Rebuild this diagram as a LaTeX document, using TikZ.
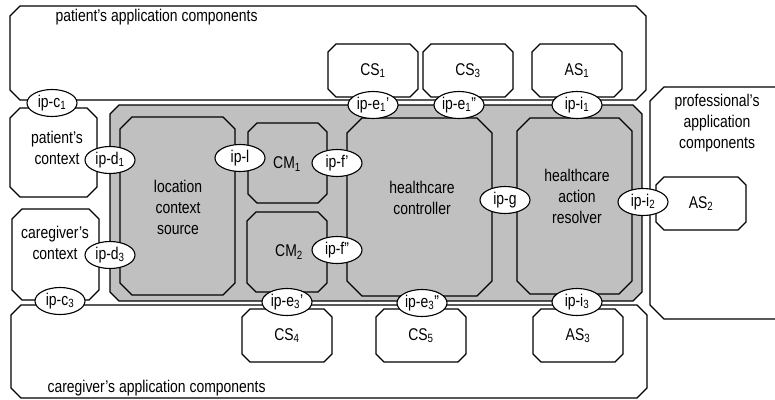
\documentclass[tikz,border=0pt]{standalone}
\usepackage{fontspec}
\setmainfont{Liberation Sans}[FakeStretch=0.82]
\usetikzlibrary{shapes.geometric}

\definecolor{blockgray}{RGB}{192,192,192}

% octagon from (x1,y1) to (x2,y2), corners cut off by c
\newcommand{\octo}[5]{(#1+#5,#2) -- (#3-#5,#2) -- (#3,#2+#5) -- (#3,#4-#5) -- (#3-#5,#4) -- (#1+#5,#4) -- (#1,#4-#5) -- (#1,#2+#5) -- cycle}

\begin{document}
\begin{tikzpicture}[x=1pt, y=-1pt, line width=1.1pt, font=\fontsize{17}{21}\selectfont,
    box/.style={draw, fill=white},
    block/.style={draw, fill=blockgray},
    txt/.style={align=center, inner sep=0pt},
    ip/.style={ellipse, draw, fill=white, minimum width=50pt, minimum height=27pt, inner sep=0pt}]
  \useasboundingbox (0,0) rectangle (775,399);
  \clip (0,0) rectangle (775,399);

  % application components of the three parties
  \draw[box] \octo{10}{6}{646}{100}{10};
  \node[txt, anchor=base west] (patapp) at (55,21) {patient's application components};
  \draw[box] \octo{11}{305}{647}{398}{10};
  \node[txt, anchor=base west] (careapp) at (47,392) {caregiver's application components};
  \draw[box] \octo{650}{87}{800}{319}{14};
  \node[txt] (profapp) at (717,123) {professional's\\application\\components};

  % context boxes on the left
  \draw[box] \octo{10}{108}{97}{197}{10};
  \node[txt] (patctx) at (57,148) {patient's\\context};
  \draw[box] \octo{12}{209}{99}{300}{10};
  \node[txt] (carectx) at (55,243) {caregiver's\\context};

  % the platform block with its components
  \draw[block] \octo{110}{105}{642}{301}{9};
  \draw[block] \octo{120}{117}{235}{295}{12};
  \node[txt] (lcs) at (178,207) {location\\context\\source};
  \draw[block] \octo{248}{123}{327}{203}{9};
  \node[txt] (cm1) at (287,164) {CM\textsubscript{1}};
  \draw[block] \octo{247}{212}{327}{292}{9};
  \node[txt] (cm2) at (289,252) {CM\textsubscript{2}};
  \draw[block] \octo{347}{118}{492}{296}{15};
  \node[txt] (hcc) at (422,198) {healthcare\\controller};
  \draw[block] \octo{517}{118}{632}{294}{13};
  \node[txt] (har) at (577,196) {healthcare\\action\\resolver};

  % context sources and action services
  \foreach \x/\y/\n/\t in {328/44/cs1/{CS\textsubscript{1}}, 423/44/cs3/{CS\textsubscript{3}},
      532/44/as1/{AS\textsubscript{1}}, 242/309/cs4/{CS\textsubscript{4}},
      376/309/cs5/{CS\textsubscript{5}}, 533/309/as3/{AS\textsubscript{3}},
      656/177/as2/{AS\textsubscript{2}}} {
    \draw[box] \octo{\x}{\y}{\x+90}{\y+53}{8};
    \node[txt] (\n) at (\x+45,\y+26.5) {\t};
  }

  % interface points
  \node[ip] (ipc1) at (52,103) {ip-c\textsubscript{1}};
  \node[ip] (ipc3) at (60,301) {ip-c\textsubscript{3}};
  \node[ip] (ipd1) at (110,160) {ip-d\textsubscript{1}};
  \node[ip] (ipd3) at (110,255) {ip-d\textsubscript{3}};
  \node[ip] (ipl) at (240,158) {ip-l};
  \node[ip] (ipf1) at (337,163) {ip-f'};
  \node[ip] (ipf2) at (337,250) {ip-f''};
  \node[ip] (ipe1a) at (373,105) {ip-e\textsubscript{1}'};
  \node[ip] (ipe1b) at (459,105) {ip-e\textsubscript{1}''};
  \node[ip] (ipi1) at (577,105) {ip-i\textsubscript{1}};
  \node[ip] (ipg) at (505,200) {ip-g};
  \node[ip] (ipi2) at (643,202) {ip-i\textsubscript{2}};
  \node[ip] (ipe3a) at (287,302) {ip-e\textsubscript{3}'};
  \node[ip] (ipe3b) at (422,303) {ip-e\textsubscript{3}''};
  \node[ip] (ipi3) at (577,302) {ip-i\textsubscript{3}};
\end{tikzpicture}
\end{document}
